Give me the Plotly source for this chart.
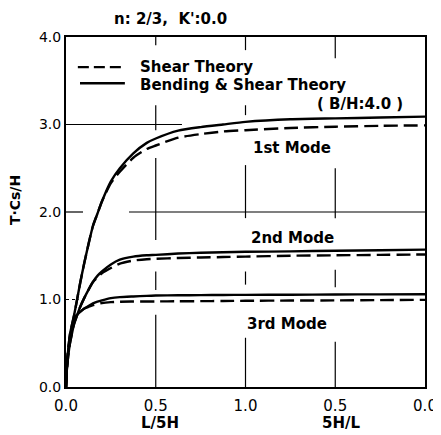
import plotly.graph_objects as go

# ---- data ----
# left half: abscissa L/5H (0 -> 1); right half: abscissa 5H/L (1 -> 0)
x_L5H = [0, 0.005, 0.012, 0.022, 0.032, 0.045, 0.06, 0.08, 0.1, 0.125, 0.15,
         0.175, 0.2, 0.25, 0.3, 0.375, 0.45, 0.5, 0.625, 0.75, 0.875, 1.0]
x_5HL = [0.75, 0.5, 0.25, 0.0]

mode1_bending_shear = [0, 0.26, 0.42, 0.60, 0.70, 0.82, 0.98, 1.20, 1.40, 1.63, 1.84,
                       1.98, 2.12, 2.35, 2.50, 2.67, 2.79, 2.84, 2.93, 2.97, 3.00, 3.03,
                       3.06, 3.07, 3.08, 3.09]
mode1_shear = [0, 0.26, 0.42, 0.60, 0.70, 0.82, 0.98, 1.20, 1.40, 1.63, 1.84,
               1.98, 2.12, 2.33, 2.46, 2.62, 2.72, 2.76, 2.85, 2.89, 2.92, 2.935,
               2.96, 2.975, 2.985, 2.99]
mode2_bending_shear = [0, 0.20, 0.35, 0.50, 0.60, 0.72, 0.81, 0.92, 1.01, 1.11, 1.20,
                       1.27, 1.32, 1.40, 1.455, 1.49, 1.505, 1.51, 1.525, 1.535, 1.54, 1.545,
                       1.55, 1.557, 1.563, 1.57]
mode2_shear = [0, 0.20, 0.35, 0.50, 0.60, 0.72, 0.81, 0.92, 1.01, 1.11, 1.20,
               1.25, 1.30, 1.36, 1.41, 1.445, 1.46, 1.465, 1.475, 1.48, 1.485, 1.49,
               1.50, 1.505, 1.51, 1.515]
mode3_bending_shear = [0, 0.22, 0.40, 0.56, 0.67, 0.76, 0.82, 0.86, 0.895, 0.925, 0.955,
                       0.975, 0.99, 1.015, 1.027, 1.035, 1.042, 1.045, 1.048, 1.05, 1.052, 1.053,
                       1.055, 1.057, 1.059, 1.06]
mode3_shear = [0, 0.22, 0.40, 0.56, 0.67, 0.76, 0.82, 0.86, 0.895, 0.915, 0.935,
               0.95, 0.96, 0.97, 0.975, 0.977, 0.978, 0.978, 0.98, 0.981, 0.983, 0.985,
               0.988, 0.99, 0.993, 0.996]

x_tick_vals = [0, 0.5, 1.0, 1.5, 2.0]
x_tick_text = ["0.0", "0.5", "1.0", "0.5", "0.0"]
y_tick_vals = [0, 1, 2, 3, 4]
y_tick_text = ["0.0", "1.0", "2.0", "3.0", "4.0"]

# combined abscissa: L/5H on [0,1], then 2 - 5H/L on [1,2]
x_all = list(x_L5H) + [2 - v for v in x_5HL]

FONT = "DejaVu Sans"
fig = go.Figure()

series = [
    (mode1_bending_shear, "solid"), (mode2_bending_shear, "solid"), (mode3_bending_shear, "solid"),
    (mode1_shear, "14px,6px"), (mode2_shear, "14px,6px"), (mode3_shear, "14px,6px"),
]
for ys, dash in series:
    fig.add_trace(go.Scatter(x=x_all, y=ys, mode="lines",
                             line=dict(color="black", width=2.4, dash=dash, shape="spline", smoothing=0.6),
                             showlegend=False, hoverinfo="skip"))

# broken grid lines
grid_segments_v = {
    0.5: [(4.0, 3.905), (3.22, 2.935), (2.616, 1.68), (1.32, 1.11), (0.825, 0.0)],
    1.0: [(4.0, 3.85), (3.22, 3.107), (2.536, 1.93), (1.32, 1.17), (0.563, 0.0)],
    1.5: [(4.0, 3.757), (2.50, 1.93), (1.34, 1.14), (0.517, 0.0)],
}
shapes = []
for xv, segs in grid_segments_v.items():
    for y0, y1 in segs:
        shapes.append(dict(type="line", xref="x", yref="y", x0=xv, x1=xv, y0=y0, y1=y1,
                           line=dict(color="black", width=1.2), layer="below"))
for yv, x0, x1, dash in [(3.0, 0.0, 0.646, "solid"), (2.0, 0.0, 0.095, "solid"),
                         (2.0, 0.351, 2.0, "solid"), (1.0, 0.0, 0.07, "3px,3px")]:
    shapes.append(dict(type="line", xref="x", yref="y", x0=x0, x1=x1, y0=yv, y1=yv,
                       line=dict(color="black", width=1.2, dash=dash), layer="below"))

# legend samples
shapes.append(dict(type="line", xref="paper", yref="paper", x0=0.033, x1=0.164, y0=0.914, y1=0.914,
                   line=dict(color="black", width=2.4, dash="11px,5px")))
shapes.append(dict(type="line", xref="paper", yref="paper", x0=0.039, x1=0.164, y0=0.868, y1=0.868,
                   line=dict(color="black", width=2.4)))

ann = []
def A(text, x, y, size=15, xanchor="center", bold=True, angle=0):
    ann.append(dict(text=f"<b>{text}</b>" if bold else text, x=x, y=y, xref="paper", yref="paper",
                    xanchor=xanchor, yanchor="middle", showarrow=False, textangle=angle,
                    font=dict(family=FONT, size=size, color="black")))

A("n: 2/3,  K':0.0", 0.29, 1.05, size=15)
A("Shear Theory", 0.2006, 0.915, size=15, xanchor="left")
A("Bending &amp; Shear Theory", 0.2006, 0.862, size=15, xanchor="left")
A("( B/H:4.0 )", 0.6936, 0.808, size=15, xanchor="left")
A("1st Mode", 0.63, 0.6825, size=15)
A("2nd Mode", 0.63, 0.4258, size=15)
A("3rd Mode", 0.6156, 0.1805, size=15)
A("L/5H", 0.263, -0.102, size=15)
A("5H/L", 0.766, -0.102, size=15)
A("T·Cs/H", -0.142, 0.534, size=14, angle=-90)

# the page body has an 8px margin, so the figure is sized/offset to compensate
fig.update_layout(
    width=433, height=427,
    margin=dict(l=58, r=16, t=29, b=48, autoexpand=False),
    paper_bgcolor="white", plot_bgcolor="white",
    shapes=shapes, annotations=ann,
    xaxis=dict(range=[0, 2], tickvals=x_tick_vals, ticktext=x_tick_text, showgrid=False,
               zeroline=False, showline=True, mirror=True, linecolor="black", linewidth=2,
               automargin=False, ticklabeloverflow="allow",
               ticks="", ticklabelstandoff=4, tickfont=dict(family=FONT, size=15, color="black")),
    yaxis=dict(range=[0, 4], tickvals=y_tick_vals, ticktext=y_tick_text, showgrid=False,
               zeroline=False, showline=True, mirror=True, linecolor="black", linewidth=2,
               automargin=False, ticklabeloverflow="allow",
               ticks="", tickfont=dict(family=FONT, size=14, color="black")),
)

fig.write_html("out.html")
